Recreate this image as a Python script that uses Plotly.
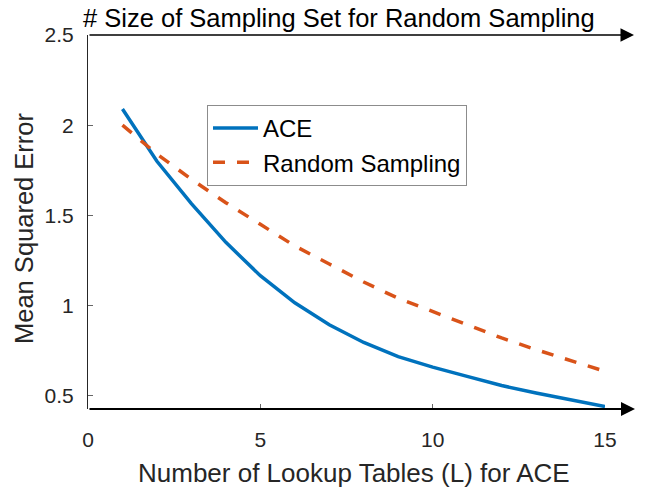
import plotly.graph_objects as go

L_values = list(range(1, 16))
ace_mse = [2.09, 1.80, 1.565, 1.35, 1.165, 1.015, 0.893, 0.795, 0.716, 0.658, 0.607, 0.556, 0.515, 0.477, 0.44]
random_mse = [2.00, 1.84, 1.70, 1.57, 1.45, 1.33, 1.23, 1.13, 1.04, 0.965, 0.89, 0.82, 0.755, 0.695, 0.635]

x_ticks = [0, 5, 10, 15]
y_ticks = [0.5, 1, 1.5, 2, 2.5]

FONT = "Liberation Sans, Arial, sans-serif"
OFF = 8  # page body margin
W, H = 660 - OFF, 493 - OFF
ML, MT = 88 - OFF, 35 - OFF
MR = W - (605 - OFF)
MB = H - (409 - OFF)
PW, PH = W - ML - MR, H - MT - MB


def px_to_paper_x(px):
    return (px - OFF - ML) / PW


def px_to_paper_y(py):
    return (H - MB - (py - OFF)) / PH


fig = go.Figure()
fig.add_trace(go.Scatter(x=L_values, y=ace_mse, mode="lines", name="ACE",
                         line=dict(color="#0072BD", width=3.5)))
fig.add_trace(go.Scatter(x=L_values, y=random_mse, mode="lines", name="Random Sampling",
                         line=dict(color="#D95319", width=3.5, dash="12px,12px")))

fig.update_layout(
    width=W, height=H,
    margin=dict(l=ML, r=MR, t=MT, b=MB),
    plot_bgcolor="white", paper_bgcolor="white",
    font=dict(family=FONT, size=21, color="#262626"),
    showlegend=True,
    legend=dict(x=px_to_paper_x(207), y=px_to_paper_y(105), xanchor="left", yanchor="top",
                bgcolor="white", bordercolor="#8c8c8c", borderwidth=1, itemwidth=45,
                font=dict(size=24, color="black"), tracegroupgap=0),
    xaxis=dict(range=[0, 15], tickvals=x_ticks, showgrid=False, zeroline=False,
               showline=False, ticks="inside", ticklen=5, tickcolor="#666",
               ticklabelstandoff=16, automargin=False),
    yaxis=dict(range=[0.426, 2.5], tickvals=y_ticks, showgrid=False, zeroline=False,
               showline=True, linecolor="#262626", linewidth=1, ticks="inside", ticklen=5,
               tickcolor="#666", ticklabelstandoff=9, automargin=False),
)

# top arrow axis
fig.add_annotation(xref="x domain", yref="y domain", axref="x domain", ayref="y domain",
                   x=px_to_paper_x(634), y=1.0, ax=0.0, ay=1.0, showarrow=True, text="",
                   arrowhead=2, arrowsize=1.8, arrowwidth=1.5, arrowcolor="black")
# bottom arrow axis
fig.add_annotation(xref="x domain", yref="y domain", axref="x domain", ayref="y domain",
                   x=px_to_paper_x(635), y=0.0, ax=0.0, ay=0.0, showarrow=True, text="",
                   arrowhead=2, arrowsize=1.4, arrowwidth=2, arrowcolor="black")
# top title
fig.add_annotation(xref="paper", yref="paper", x=px_to_paper_x(339), y=px_to_paper_y(18.5),
                   xanchor="center", yanchor="middle", showarrow=False,
                   text="# Size of Sampling Set for Random Sampling",
                   font=dict(size=25.5, color="black"))
# x axis title
fig.add_annotation(xref="paper", yref="paper", x=px_to_paper_x(354), y=px_to_paper_y(473),
                   xanchor="center", yanchor="middle", showarrow=False,
                   text="Number of Lookup Tables (L) for ACE",
                   font=dict(size=26, color="#262626"))
# y axis title
fig.add_annotation(xref="paper", yref="paper", x=px_to_paper_x(24), y=px_to_paper_y(228),
                   xanchor="center", yanchor="middle", showarrow=False, textangle=-90,
                   text="Mean Squared Error",
                   font=dict(size=25.5, color="#262626"))

fig.write_html("out.html")
